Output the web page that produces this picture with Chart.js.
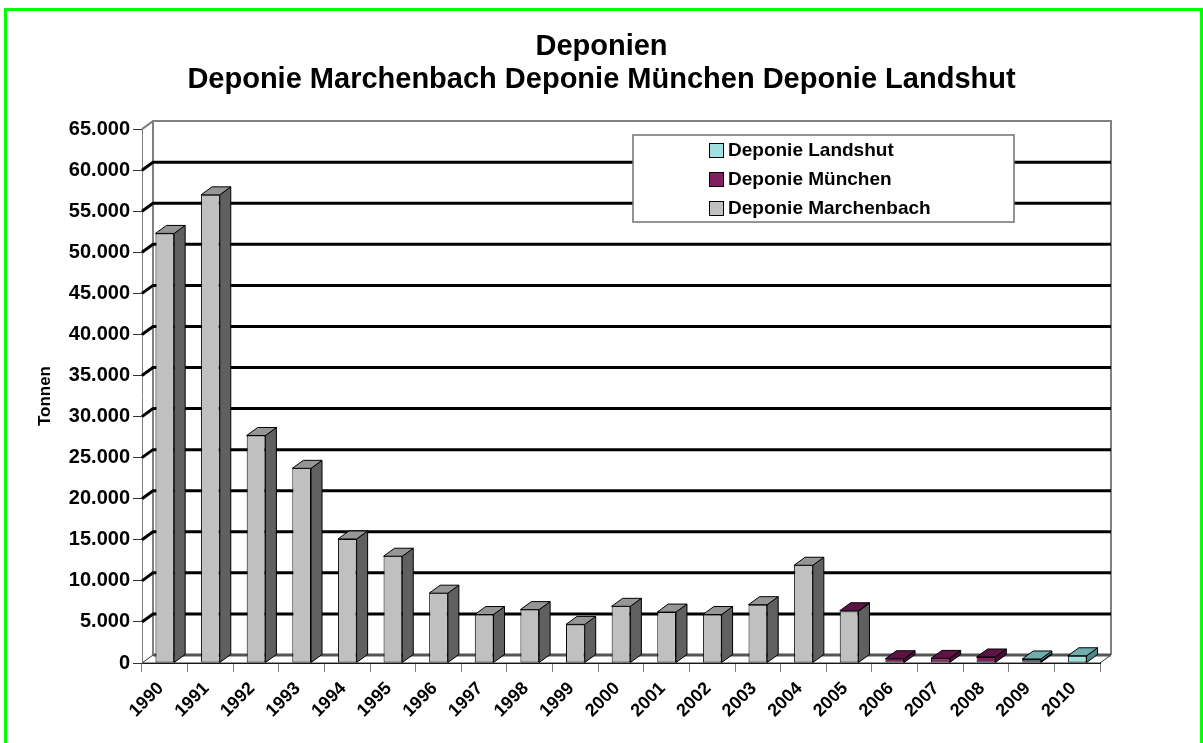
<!DOCTYPE html>
<html>
<head>
<meta charset="utf-8">
<title>Deponien</title>
<script src="https://cdn.jsdelivr.net/npm/chart.js@4.4.1/dist/chart.umd.min.js"></script>
<style>
  body { margin: 0; background: #fff; }
  #frame { position: absolute; left: 4px; top: 8px; width: 1193px; height: 800px; border: 3px solid #00ff00; }
  #c { position: absolute; left: 0; top: 0; }
</style>
</head>
<body>
<div id="frame"></div>
<canvas id="c" width="1203" height="743"></canvas>
<script>
// data (Tonnen per year)
const years = ['1990','1991','1992','1993','1994','1995','1996','1997','1998','1999','2000',
               '2001','2002','2003','2004','2005','2006','2007','2008','2009','2010'];
const marchenbach = [52300, 57000, 27700, 23700, 15100, 13000, 8500, 5900, 6500, 4700, 6900,
                     6200, 5900, 7100, 11900, 6300, 0, 0, 0, 0, 0];
const muenchen    = [0, 0, 0, 0, 0, 0, 0, 0, 0, 0, 0,
                     0, 0, 0, 0, 60, 520, 560, 730, 200, 0];
const landshut    = [0, 0, 0, 0, 0, 0, 0, 0, 0, 0, 0,
                     0, 0, 0, 0, 0, 0, 0, 0, 290, 880];
const seriesNames = ['Deponie Marchenbach', 'Deponie München', 'Deponie Landshut'];
const frontColors = ['#c0c0c0', '#802060', '#a0e0e0'];
const sideColors  = ['#606060', '#4a0f38', '#4f8585'];
const topColors   = ['#969696', '#5c1445', '#72acac'];

const dx = 11, dy = 8;   // depth of the fake 3d

function poly(ctx, pts, fill) {
  ctx.beginPath();
  ctx.moveTo(pts[0][0], pts[0][1]);
  for (let i = 1; i < pts.length; i++) ctx.lineTo(pts[i][0], pts[i][1]);
  ctx.closePath();
  ctx.fillStyle = fill;
  ctx.fill();
  ctx.strokeStyle = '#000';
  ctx.lineWidth = 1;
  ctx.stroke();
}

const threeD = {
  id: 'threeD',
  beforeDatasetsDraw(chart) {
    const { ctx, chartArea: a, scales: { y } } = chart;
    ctx.save();
    // floor
    ctx.beginPath();
    ctx.moveTo(a.left, a.bottom);
    ctx.lineTo(a.right, a.bottom);
    ctx.lineTo(a.right + dx, a.bottom - dy);
    ctx.lineTo(a.left + dx, a.bottom - dy);
    ctx.closePath();
    ctx.fillStyle = '#fff';
    ctx.fill();
    ctx.strokeStyle = '#333';
    ctx.lineWidth = 1;
    ctx.stroke();
    // back wall outline
    ctx.strokeStyle = '#808080';
    ctx.lineWidth = 2;
    ctx.beginPath();
    ctx.moveTo(a.left + dx, a.bottom - dy);
    ctx.lineTo(a.left + dx, a.top - dy);
    ctx.lineTo(a.right + dx, a.top - dy);
    ctx.lineTo(a.right + dx, a.bottom - dy);
    ctx.moveTo(a.left, a.top);
    ctx.lineTo(a.left + dx, a.top - dy);
    ctx.stroke();
    // zero line on the back
    ctx.strokeStyle = '#555';
    ctx.lineWidth = 3;
    ctx.beginPath();
    ctx.moveTo(a.left + dx, a.bottom - dy);
    ctx.lineTo(a.right + dx, a.bottom - dy);
    ctx.stroke();
    // gridlines on side + back wall
    ctx.strokeStyle = '#000';
    ctx.lineWidth = 3;
    y.ticks.forEach(t => {
      if (t.value === 0 || t.value === y.max) return;
      const py = y.getPixelForValue(t.value);
      ctx.beginPath();
      ctx.moveTo(a.left, py);
      ctx.lineTo(a.left + dx, py - dy);
      ctx.lineTo(a.right + dx, py - dy);
      ctx.stroke();
    });
    ctx.restore();
  },
  afterDatasetsDraw(chart) {
    const ctx = chart.ctx;
    ctx.save();
    const sets = chart.data.datasets;
    // side faces
    sets.forEach((ds, i) => {
      chart.getDatasetMeta(i).data.forEach((bar, j) => {
        if (!ds.data[j]) return;
        const p = bar.getProps(['x', 'y', 'base', 'width'], true);
        const r = p.x + p.width / 2;
        poly(ctx, [[r, p.y], [r + dx, p.y - dy], [r + dx, p.base - dy], [r, p.base]], sideColors[i]);
      });
    });
    // top face of each stack
    years.forEach((yr, j) => {
      let top = -1;
      sets.forEach((ds, i) => { if (ds.data[j]) top = i; });
      if (top < 0) return;
      const p = chart.getDatasetMeta(top).data[j].getProps(['x', 'y', 'width'], true);
      const l = p.x - p.width / 2, r = p.x + p.width / 2;
      poly(ctx, [[l, p.y], [r, p.y], [r + dx, p.y - dy], [l + dx, p.y - dy]], topColors[top]);
    });

    // legend box
    const lx = 633, ly = 135, lw = 381, lh = 87;
    ctx.fillStyle = '#fff';
    ctx.fillRect(lx, ly, lw, lh);
    ctx.strokeStyle = '#707070';
    ctx.lineWidth = 1.5;
    ctx.strokeRect(lx, ly, lw, lh);
    ctx.font = "bold 19px 'Liberation Sans', Arial, sans-serif";
    ctx.textBaseline = 'middle';
    ctx.textAlign = 'left';
    for (let k = 0; k < sets.length; k++) {
      const i = sets.length - 1 - k;
      const cy = ly + 15 + k * 29;
      ctx.fillStyle = frontColors[i];
      ctx.fillRect(709, cy - 7, 14, 14);
      ctx.strokeStyle = '#000';
      ctx.lineWidth = 1;
      ctx.strokeRect(709.5, cy - 6.5, 14, 14);
      ctx.fillStyle = '#000';
      ctx.fillText(sets[i].label, 728, cy + 1);
    }
    ctx.restore();
  }
};

Chart.defaults.font.family = "'Liberation Sans', Arial, sans-serif";
Chart.defaults.color = '#000';

const values = [marchenbach, muenchen, landshut];

new Chart(document.getElementById('c'), {
  type: 'bar',
  data: {
    labels: years,
    datasets: values.map((v, i) => ({
      label: seriesNames[i],
      data: v,
      backgroundColor: frontColors[i],
      borderColor: '#000',
      borderWidth: 1,
      borderSkipped: false,
      barPercentage: 0.41,
      categoryPercentage: 1
    }))
  },
  options: {
    responsive: false,
    animation: false,
    devicePixelRatio: 1,
    layout: { padding: 0 },
    plugins: {
      legend: { display: false },
      tooltip: { enabled: false },
      title: {
        display: true,
        text: ['Deponien', 'Deponie Marchenbach Deponie München Deponie Landshut'],
        color: '#000',
        font: { size: 29, weight: 'bold', lineHeight: 1.14 },
        padding: { top: 30, bottom: 33 }
      }
    },
    scales: {
      x: {
        stacked: true,
        grid: { drawOnChartArea: false, drawTicks: true, tickLength: 9, color: '#808080', offset: true },
        border: { color: '#000' },
        ticks: { font: { size: 18, weight: 'bold' }, color: '#000', minRotation: 45, maxRotation: 45, autoSkip: false, padding: 6, labelOffset: -4 },
        afterFit: s => { s.height = 80; }
      },
      y: {
        stacked: true,
        min: 0,
        max: 65000,
        ticks: {
          stepSize: 5000,
          font: { size: 20, weight: 'bold' },
          color: '#000',
          padding: 3,
          callback: v => String(v).replace(/\B(?=(\d{3})+(?!\d))/g, '.')
        },
        grid: { drawOnChartArea: false, tickLength: 9, color: '#333' },
        border: { color: '#808080' },
        title: { display: true, text: 'Tonnen', color: '#000', font: { size: 17, weight: 'bold' }, padding: { top: 35 } },
        afterFit: s => { s.width = 142; }
      },
      // empty right-hand box so the plot ends where the original does
      yRight: {
        position: 'right',
        display: true,
        grid: { display: false },
        border: { display: false },
        ticks: { display: false },
        afterFit: s => { s.width = 103; }
      }
    }
  },
  plugins: [threeD]
});
</script>
</body>
</html>
